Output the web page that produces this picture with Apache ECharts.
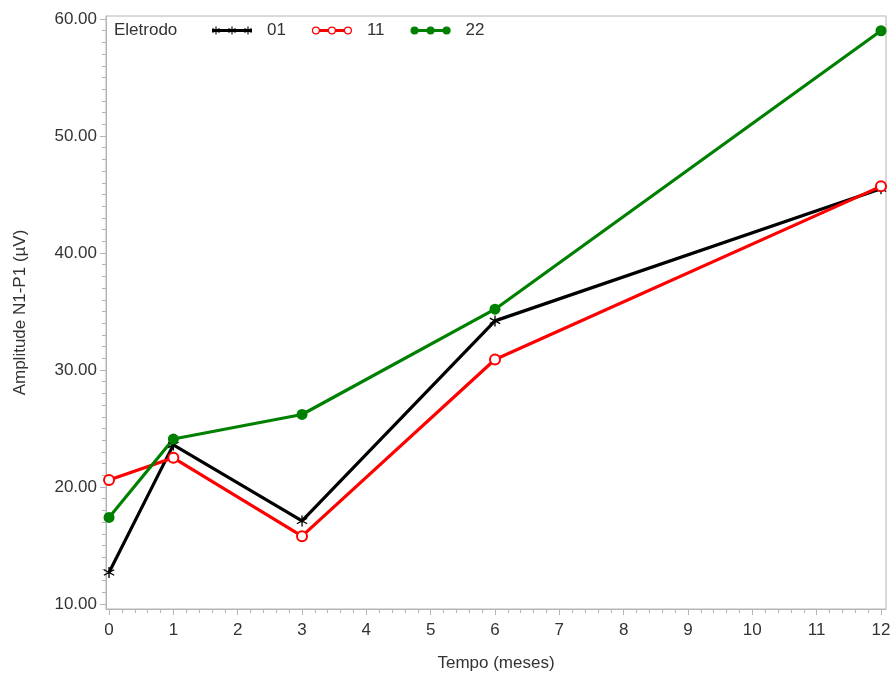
<!DOCTYPE html>
<html>
<head>
<meta charset="utf-8">
<script src="https://cdn.jsdelivr.net/npm/echarts@6/dist/echarts.min.js"></script>
<style>html,body{margin:0;padding:0;background:#fff}#c{width:896px;height:677px}</style>
</head>
<body>
<div id="c"></div>
<script>
// ---- data ----
var months = [0, 1, 3, 6, 12];
var seriesNames = ['01', '11', '22'];
var eletrodo01 = [12.7, 23.6, 17.1, 34.2, 45.5];
var eletrodo11 = [20.6, 22.5, 15.8, 30.9, 45.7];
var eletrodo22 = [17.4, 24.1, 26.2, 35.2, 59.0];
var xTickLabels = [0, 1, 2, 3, 4, 5, 6, 7, 8, 9, 10, 11, 12];
var yTickLabels = [10, 20, 30, 40, 50, 60];
var legendTitle = 'Eletrodo';
var xTitle = 'Tempo (meses)';
var yTitle = 'Amplitude N1-P1 (\u00b5V)';

// ---- styling helpers ----
var FONT = '"Liberation Sans", Arial, sans-serif';
var TXT = '#333333';
var AX = '#b4b4b4';

function pair(data) { return months.map(function (m, i) { return [m, data[i]]; }); }

function asteriskPath(cx, cy, r, w) {
  var p = '';
  function bar(dx, dy) {
    var ax = cx - dx * r, ay = cy - dy * r, bx = cx + dx * r, by = cy + dy * r;
    var nx = -dy * w / 2, ny = dx * w / 2;
    var pts = [[ax + nx, ay + ny], [bx + nx, by + ny], [bx - nx, by - ny], [ax - nx, ay - ny]];
    var s = 0;
    for (var i = 0; i < 4; i++) { var a = pts[i], b = pts[(i + 1) % 4]; s += a[0] * b[1] - b[0] * a[1]; }
    if (s < 0) pts.reverse();
    p += 'M' + pts.map(function (q) { return q[0].toFixed(3) + ' ' + q[1].toFixed(3); }).join(' L') + ' Z ';
  }
  bar(0, 1);
  bar(Math.cos(Math.PI / 6), Math.sin(Math.PI / 6));
  bar(Math.cos(Math.PI / 6), -Math.sin(Math.PI / 6));
  return p;
}
function circlePath(cx, cy, r, ccw) {
  var sw = ccw ? 0 : 1;
  return 'M' + (cx - r) + ' ' + cy + ' A' + r + ' ' + r + ' 0 1 ' + sw + ' ' + (cx + r) + ' ' + cy +
    ' A' + r + ' ' + r + ' 0 1 ' + sw + ' ' + (cx - r) + ' ' + cy + ' Z ';
}
function rectPath(x0, y0, x1, y1) {
  return 'M' + x0 + ' ' + y0 + ' L' + x1 + ' ' + y0 + ' L' + x1 + ' ' + y1 + ' L' + x0 + ' ' + y1 + ' Z ';
}
var asteriskSymbol = 'path://' + asteriskPath(5, 5, 5, 1.1);
var legendIcon01 = 'path://' + rectPath(0, 2.5, 40, 5.5) + asteriskPath(4, 4, 4, 1.1) + asteriskPath(20, 4, 4, 1.1) + asteriskPath(36, 4, 4, 1.1);
var legendIcon11 = 'path://' + rectPath(0, 2.5, 0.5, 5.5) + rectPath(7.5, 2.5, 16.5, 5.5) + rectPath(23.5, 2.5, 32.5, 5.5) + rectPath(39.5, 2.5, 40, 5.5) +
  circlePath(4, 4, 4, false) + circlePath(4, 4, 2.8, true) +
  circlePath(20, 4, 4, false) + circlePath(20, 4, 2.8, true) +
  circlePath(36, 4, 4, false) + circlePath(36, 4, 2.8, true);
var legendIcon22 = 'path://' + rectPath(0, 2.5, 40, 5.5) + circlePath(4, 4, 4, false) + circlePath(20, 4, 4, false) + circlePath(36, 4, 4, false);

var xMinor = [], yMinor = [];
for (var i = 0; i <= 60; i++) xMinor.push(Math.round(i * 2) / 10);
for (var j = 10; j <= 60; j++) yMinor.push(j);

var chart = echarts.init(document.getElementById('c'), null, { renderer: 'canvas' });
var option = {
  animation: false,
  backgroundColor: '#ffffff',
  textStyle: { fontFamily: FONT },
  grid: { left: 106, right: 10, top: 16, bottom: 68, show: true, borderColor: AX, borderWidth: 1, backgroundColor: 'transparent' },
  graphic: [{
    type: 'text', left: 114, top: 22, z: 10,
    style: { text: legendTitle, font: '17px ' + FONT, fill: TXT }
  }],
  legend: {
    left: 212, top: 22, padding: 0, itemWidth: 40, itemHeight: 8, itemGap: 26,
    textStyle: { fontSize: 17, color: TXT, fontFamily: FONT, padding: [0, 0, 0, 10] },
    data: [
      { name: seriesNames[0], icon: legendIcon01, itemStyle: { color: '#000000' } },
      { name: seriesNames[1], icon: legendIcon11, itemStyle: { color: '#ff0000' } },
      { name: seriesNames[2], icon: legendIcon22, itemStyle: { color: '#008000' } }
    ]
  },
  xAxis: [{
    type: 'value', min: -0.047, max: 12.078,
    name: xTitle, nameLocation: 'middle', nameGap: 46,
    nameTextStyle: { fontSize: 17, color: TXT, fontFamily: FONT },
    axisLine: { show: true, onZero: false, lineStyle: { color: AX } },
    axisTick: { show: true, inside: false, length: 6, lineStyle: { color: AX }, customValues: xTickLabels },
    axisLabel: { fontSize: 17, color: TXT, margin: 13, customValues: xTickLabels, fontFamily: FONT },
    splitLine: { show: false }
  }, {
    type: 'value', min: -0.047, max: 12.078, position: 'bottom', gridIndex: 0,
    axisLine: { show: false, onZero: false },
    axisTick: { show: true, inside: false, length: 4, lineStyle: { color: AX }, customValues: xMinor },
    axisLabel: { show: false, customValues: xMinor },
    splitLine: { show: false }
  }],
  yAxis: [{
    type: 'value', min: 9.573, max: 60.26,
    name: yTitle, nameLocation: 'middle', nameGap: 77, nameRotate: 90,
    nameTextStyle: { fontSize: 17, color: TXT, fontFamily: FONT },
    axisLine: { show: true, onZero: false, lineStyle: { color: AX } },
    axisTick: { show: true, inside: false, length: 6, lineStyle: { color: AX }, customValues: yTickLabels },
    axisLabel: { fontSize: 17, color: TXT, margin: 9, customValues: yTickLabels, fontFamily: FONT,
      formatter: function (v) { return Number(v).toFixed(2); } },
    splitLine: { show: false }
  }, {
    type: 'value', min: 9.573, max: 60.26, position: 'left', gridIndex: 0,
    axisLine: { show: false, onZero: false },
    axisTick: { show: true, inside: false, length: 4, lineStyle: { color: AX }, customValues: yMinor },
    axisLabel: { show: false, customValues: yMinor },
    splitLine: { show: false }
  }],
  series: [{
    name: seriesNames[0], type: 'line', data: pair(eletrodo01),
    symbol: asteriskSymbol, symbolSize: 11, showAllSymbol: true,
    itemStyle: { color: '#000000' }, lineStyle: { color: '#000000', width: 3.2 }
  }, {
    name: seriesNames[1], type: 'line', data: pair(eletrodo11),
    symbol: 'emptyCircle', symbolSize: 10, showAllSymbol: true,
    itemStyle: { color: '#ff0000', borderWidth: 1.2 }, lineStyle: { color: '#ff0000', width: 3.2 }
  }, {
    name: seriesNames[2], type: 'line', data: pair(eletrodo22),
    symbol: 'circle', symbolSize: 11, showAllSymbol: true,
    itemStyle: { color: '#008000' }, lineStyle: { color: '#008000', width: 3.2 }
  }]
};
chart.setOption(option);
</script>
</body>
</html>
